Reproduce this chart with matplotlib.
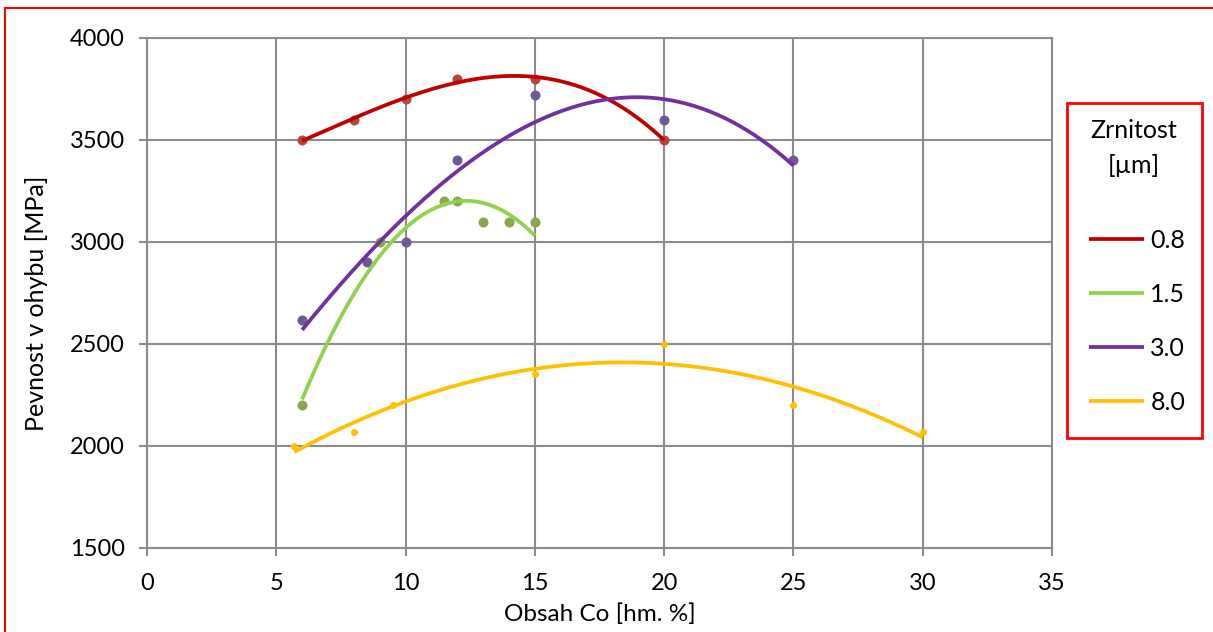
import numpy as np
import matplotlib
matplotlib.use("Agg")
import matplotlib.pyplot as plt
from matplotlib.lines import Line2D
from matplotlib.patches import Rectangle

plt.rcParams["font.family"] = ["Lato", "DejaVu Sans"]

# grain size series (Zrnitost) - Co content vs bending strength
labels = ["0.8", "1.5", "3.0", "8.0"]

x_08 = [6, 8, 10, 12, 15, 20]
y_08 = [3500, 3600, 3700, 3800, 3800, 3500]

x_15 = [6, 9, 11.5, 12, 13, 14, 15]
y_15 = [2200, 3000, 3200, 3200, 3100, 3100, 3100]

x_30 = [6, 8.5, 10, 12, 15, 20, 25]
y_30 = [2620, 2900, 3000, 3400, 3720, 3600, 3400]

x_80 = [5.7, 8, 9.5, 15, 20, 25, 30]
y_80 = [2000, 2070, 2200, 2355, 2500, 2200, 2070]

# (x, y, line colour, marker colour, marker size, trendline order)
series = [
    (x_08, y_08, "#C00000", "#B4453F", 7.2, 3),
    (x_15, y_15, "#92D050", "#8BA650", 7.2, 2),
    (x_30, y_30, "#7030A0", "#6F5896", 7.2, 3),
    (x_80, y_80, "#FFC000", "#FFC000", 5.0, 2),
]

W, H = 1213, 632
fig = plt.figure(figsize=(W / 100, H / 100), dpi=100)
ax = fig.add_axes([147 / W, 1 - 548 / H, (1052 - 147) / W, (548 - 38) / H])

grid_c = "#8C8C8C"
handles = []
for (xs, ys, lc, mc, ms, order), lab in zip(series, labels):
    xs = np.array(xs, dtype=float)
    ys = np.array(ys, dtype=float)
    ax.plot(xs, ys, "o", color=mc, ms=ms, mec="none", zorder=3)
    # polynomial trendline, as in the original spreadsheet chart
    coef = np.polyfit(xs, ys, order)
    xt = np.linspace(xs.min(), xs.max(), 200)
    h, = ax.plot(xt, np.polyval(coef, xt), color=lc, lw=2.7, zorder=4,
                 solid_capstyle="butt")
    handles.append(h)

ax.set_xlim(0, 35)
ax.set_ylim(1500, 4000)
ax.set_xticks(np.arange(0, 36, 5))
ax.set_yticks(np.arange(1500, 4001, 500))
ax.grid(True, color=grid_c, lw=1.5)
ax.set_axisbelow(True)
for s in ax.spines.values():
    s.set_color(grid_c)
    s.set_linewidth(1.5)
ax.tick_params(axis="both", colors=grid_c, length=6, width=1.5,
               labelsize=17, labelcolor="black", pad=10)
ax.tick_params(axis="x", pad=12)

fig.text(599.5 / W, 1 - 614 / H, "Obsah Co [hm. %]", ha="center", va="center",
         fontsize=17.5)
fig.text(37 / W, 1 - 303 / H, "Pevnost v ohybu [MPa]", ha="center", va="center",
         rotation=90, fontsize=18)

# legend box
fig.add_artist(Rectangle((1067 / W, 1 - 438 / H), (1202 - 1067) / W, (438 - 103) / H,
                         transform=fig.transFigure, fill=False, edgecolor="#FF0000",
                         lw=2))
fig.text(1134 / W, 1 - 130 / H, "Zrnitost", ha="center", va="center", fontsize=18)
fig.text(1134 / W, 1 - 165 / H, "[µm]", ha="center", va="center", fontsize=18)
fig.legend(handles, labels, loc="center left",
           bbox_to_anchor=(1089 / W, 1 - 321.5 / H), frameon=False, fontsize=18,
           handlelength=2.2, handletextpad=0.25, labelspacing=1.24, borderpad=0,
           borderaxespad=0)

# red outer frame (top and left only)
fig.add_artist(Line2D([5 / W, 1], [1 - 8 / H, 1 - 8 / H], transform=fig.transFigure,
                      color="#FF0000", lw=1.5))
fig.add_artist(Line2D([5 / W, 5 / W], [0, 1 - 8 / H], transform=fig.transFigure,
                      color="#FF0000", lw=1.5))

fig.savefig("out.png", dpi=100)
